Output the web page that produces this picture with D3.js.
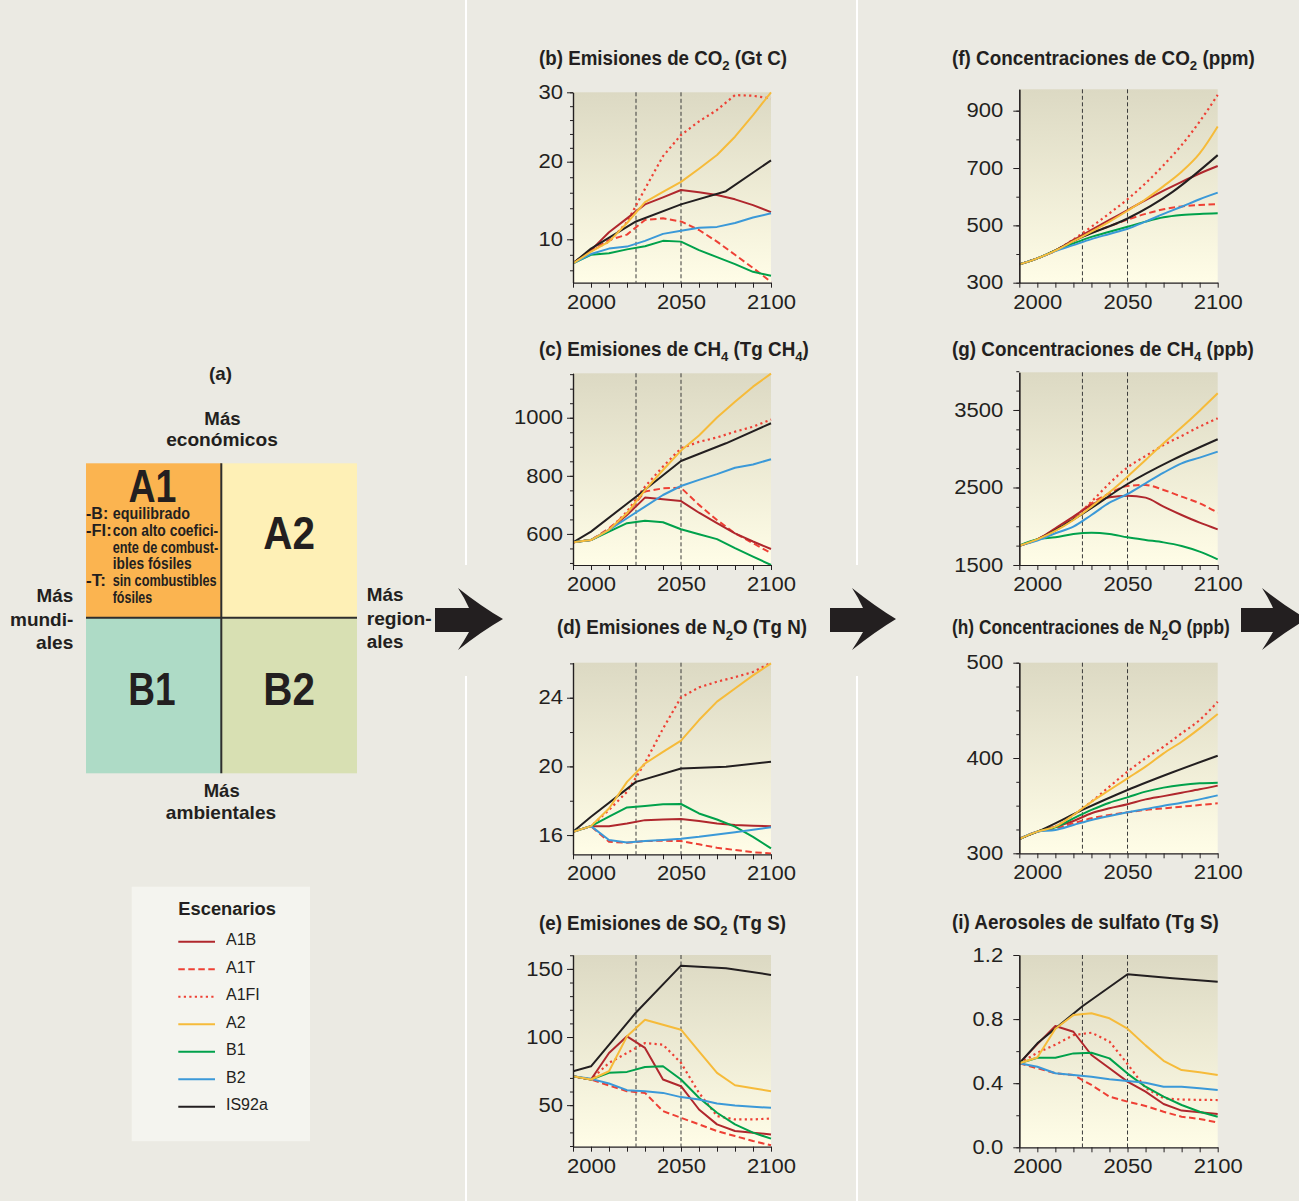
<!DOCTYPE html>
<html><head><meta charset="utf-8">
<script src="https://cdn.jsdelivr.net/npm/d3@7"></script>
<style>html,body{margin:0;padding:0;background:#EBEAE3;} svg{display:block}</style>
</head><body>
<svg id="c" width="1299" height="1201"></svg>
<script>
// ---------------- DATA ----------------
const YEARS = [1990,2000,2010,2020,2030,2040,2050,2060,2070,2080,2090,2100];
const IS92_YEARS = [1990,2000,2025,2050,2075,2100];
const SCENARIOS = ["A1B","A1T","A1FI","A2","B1","B2","IS92a"];
const X_TICK_LABELS = [2000,2050,2100];
const MARKER_YEARS = [2025,2050];

// rows follow SCENARIOS order: A1B, A1T, A1FI, A2, B1, B2, IS92a
const co2Emissions = [
  [6.9, 8.6, 10.9, 12.7, 14.5, 15.4, 16.35, 16.05, 15.7, 15.15, 14.4, 13.5],
  [6.9, 8.5, 9.9, 10.6, 12.5, 12.7, 12.3, 11.2, 9.7, 8.0, 6.3, 4.5],
  [6.9, 8.5, 9.7, 12.2, 16.5, 20.8, 23.85, 25.8, 27.45, 29.6, 29.5, 29.1],
  [6.9, 8.4, 9.7, 12.1, 14.8, 16.1, 17.4, 19.1, 20.96, 23.6, 26.7, 30.0],
  [6.9, 8.0, 8.2, 8.7, 9.1, 9.8, 9.7, 8.6, 7.7, 6.8, 5.8, 5.3],
  [6.9, 8.1, 8.8, 9.06, 9.8, 10.7, 11.1, 11.5, 11.6, 12.1, 12.8, 13.35],
  [6.9, 8.8, 12.3, 14.5, 16.2, 20.2]
];
const co2EmissionsTicks = [10, 20, 30];

const ch4Emissions = [
  [571, 579, 614, 665, 725, 719, 713, 673, 637, 602, 574, 548],
  [571, 579, 619, 671, 746, 757, 759, 700, 648, 602, 568, 534],
  [571, 579, 614, 677, 763, 832, 895, 917, 932, 952, 969, 994],
  [571, 579, 614, 671, 751, 820, 887, 939, 1001, 1055, 1107, 1152],
  [571, 579, 608, 637, 645, 640, 616, 599, 582, 551, 522, 493],
  [571, 579, 614, 654, 694, 734, 765, 786, 806, 828, 839, 857],
  [571, 608, 728, 851, 912, 981]
];
const ch4EmissionsTicks = [600, 800, 1000];

const n2oEmissions = [
  [16.19, 16.52, 16.52, 16.68, 16.87, 16.91, 16.93, 16.82, 16.68, 16.58, 16.55, 16.52],
  [16.19, 16.52, 15.61, 15.55, 15.65, 15.67, 15.65, 15.46, 15.26, 15.13, 15.0, 14.93],
  [16.19, 16.52, 17.46, 18.52, 20.2, 22.2, 24.02, 24.6, 24.93, 25.2, 25.5, 26.04],
  [16.19, 16.52, 17.55, 19.1, 20.17, 20.85, 21.5, 22.7, 23.77, 24.54, 25.3, 26.0],
  [16.19, 16.52, 17.07, 17.61, 17.69, 17.79, 17.81, 17.26, 16.91, 16.49, 15.9, 15.22],
  [16.19, 16.52, 15.71, 15.57, 15.65, 15.71, 15.79, 15.9, 16.04, 16.17, 16.31, 16.45],
  [16.19, 17.07, 19.1, 19.88, 19.98, 20.27]
];
const n2oEmissionsTicks = [16, 20, 24];

const so2Emissions = [
  [71.2, 68.8, 88.3, 100.5, 92, 68.8, 63.9, 46.8, 35.9, 31, 29.8, 28.5],
  [71.2, 68.8, 64.4, 60.2, 59, 45.6, 40.7, 35.9, 31, 27.3, 23.7, 20.5],
  [71.2, 68.8, 81, 88.3, 95.6, 94.4, 81, 59, 42, 39.5, 39.5, 40.2],
  [71.2, 68.8, 74.9, 100.5, 112.7, 109, 105.4, 89.5, 73.7, 64.6, 62.4, 60.2],
  [71.2, 68.8, 73.7, 74.4, 78, 78.5, 68.8, 55.4, 44.4, 35.9, 29.8, 25.4],
  [71.2, 69.3, 65.9, 61, 60.2, 59, 55.9, 54.1, 51.2, 49.8, 48.8, 48],
  [74.9, 78.5, 118, 152.4, 150.5, 145.6]
];
const so2EmissionsTicks = [50, 100, 150];

const co2Concentration = [
  [364, 385, 412, 449, 484, 519, 553, 588, 621, 652, 681, 707],
  [364, 385, 412, 445, 474, 497, 520, 540, 556, 566, 571, 574],
  [364, 385, 412, 451, 495, 542, 591, 647, 710, 780, 862, 955],
  [364, 385, 412, 445, 478, 513, 551, 591, 637, 687, 751, 845],
  [364, 385, 412, 437, 460, 478, 495, 513, 528, 536, 540, 542],
  [364, 385, 410, 431, 452, 470, 488, 513, 540, 565, 591, 614],
  [364, 385, 460, 524, 617, 745]
];
const co2ConcentrationTicks = [300, 500, 700, 900];

const ch4Concentration = [
  [1749, 1831, 1973, 2124, 2274, 2373, 2395, 2369, 2253, 2145, 2046, 1960],
  [1749, 1831, 1965, 2115, 2296, 2425, 2519, 2532, 2468, 2382, 2296, 2175],
  [1749, 1831, 1952, 2102, 2317, 2554, 2760, 2906, 3048, 3165, 3285, 3392],
  [1749, 1831, 1939, 2081, 2253, 2438, 2640, 2855, 3070, 3276, 3491, 3715],
  [1749, 1831, 1857, 1900, 1917, 1900, 1857, 1823, 1792, 1745, 1672, 1573],
  [1749, 1814, 1909, 1995, 2145, 2304, 2416, 2554, 2691, 2812, 2885, 2962],
  [1749, 1831, 2160, 2545, 2855, 3122]
];
const ch4ConcentrationTicks = [1500, 2500, 3500];

const n2oConcentration = [
  [315, 322.7, 328, 333.9, 342, 347.2, 351.4, 356.6, 360, 363.6, 367.1, 371],
  [315, 322.7, 326, 331.5, 336.7, 340.2, 343, 345.5, 347.2, 348.9, 350.7, 352.4],
  [315, 322.7, 328, 340.2, 354.2, 370, 385.7, 399.7, 411.9, 425.9, 439.9, 459],
  [315, 322.7, 328, 340.2, 354, 366.4, 378.7, 390.9, 404.9, 417.1, 431.1, 446.2],
  [315, 322.7, 327.3, 336.7, 345.5, 353.1, 358.7, 364.7, 368.9, 371.7, 373.4, 374.1],
  [315, 322.7, 324.5, 329.7, 335, 339.2, 343, 346.5, 350, 353.1, 356.6, 360.8],
  [315, 322.7, 345.5, 366.4, 385, 402.4]
];
const n2oConcentrationTicks = [300, 400, 500];

const sulfateAerosols = [
  [0.524, 0.644, 0.757, 0.721, 0.576, 0.493, 0.41, 0.347, 0.27, 0.229, 0.218, 0.208],
  [0.524, 0.493, 0.462, 0.451, 0.389, 0.316, 0.285, 0.258, 0.222, 0.191, 0.177, 0.154],
  [0.524, 0.59, 0.64, 0.70, 0.715, 0.66, 0.52, 0.37, 0.306, 0.298, 0.296, 0.295],
  [0.524, 0.56, 0.74, 0.825, 0.836, 0.805, 0.74, 0.636, 0.54, 0.482, 0.468, 0.451],
  [0.524, 0.559, 0.559, 0.586, 0.59, 0.555, 0.46, 0.378, 0.316, 0.264, 0.222, 0.191],
  [0.524, 0.503, 0.462, 0.451, 0.44, 0.424, 0.414, 0.403, 0.378, 0.378, 0.368, 0.358],
  [0.524, 0.649, 0.88, 1.08, 1.055, 1.033]
];
const sulfateAerosolsTicks = [0, 0.4, 0.8, 1.2];

// ---------------- STYLE ----------------
const INK = "#231F20";
const FONT = "'Liberation Sans', Arial, Helvetica, sans-serif";
const STYLE = {
  A1B:   {color: "#B0272D", dash: null},
  A1T:   {color: "#EE4035", dash: "6.5,3.5"},
  A1FI:  {color: "#EE4035", dash: "2.2,3.3"},
  A2:    {color: "#F6BB3A", dash: null},
  B1:    {color: "#00A14B", dash: null},
  B2:    {color: "#3B99D8", dash: null},
  IS92a: {color: "#231F20", dash: null}
};
const DRAW_ORDER = ["A1FI","A1T","A1B","IS92a","B1","B2","A2"];

const svg = d3.select("#c");
svg.append("rect").attr("width",1299).attr("height",1201).attr("fill","#EBEAE3");
const defs = svg.append("defs");
const grad = defs.append("linearGradient").attr("id","plotbg").attr("x1",0).attr("y1",0).attr("x2",0).attr("y2",1);
grad.append("stop").attr("offset","0%").attr("stop-color","#DCD9C3");
grad.append("stop").attr("offset","100%").attr("stop-color","#FFFDE7");

// text fitted to a measured width
function fitText(parent, o) {
  const size = o.size, weight = o.weight || "bold";
  const t = parent.append("text").attr("x",0).attr("y",0)
    .attr("font-family", FONT).attr("font-size", size).attr("font-weight", weight)
    .attr("fill", o.fill || INK);
  let shift = 0;
  o.parts.forEach(p => {
    const isSub = Array.isArray(p);
    const txt = isSub ? p[0] : p;
    const ts = t.append("tspan").text(txt);
    const target = isSub ? size*0.3 : 0;
    if (target !== shift) { ts.attr("dy", target - shift); shift = target; }
    if (isSub) ts.attr("font-size", size*0.7);
  });
  const bb = t.node().getBBox();
  const k = o.width ? o.width / bb.width : 1;
  const w = bb.width * k;
  const anchor = o.anchor || "start";
  let left = anchor === "start" ? o.x : anchor === "middle" ? o.x - w/2 : o.x - w;
  t.attr("transform", `translate(${left - bb.x*k},${o.y}) scale(${k},1)`);
  return t;
}

// ---------------- PANEL (a) ----------------
const pa = svg.append("g");
const QX0 = 86, QXM = 221.3, QX1 = 357, QY0 = 463.3, QYM = 617.7, QY1 = 773.3;
pa.append("rect").attr("x",QX0).attr("y",QY0).attr("width",QXM-QX0).attr("height",QYM-QY0).attr("fill","#FBB450");
pa.append("rect").attr("x",QXM).attr("y",QY0).attr("width",QX1-QXM).attr("height",QYM-QY0).attr("fill","#FEF0B6");
pa.append("rect").attr("x",QX0).attr("y",QYM).attr("width",QXM-QX0).attr("height",QY1-QYM).attr("fill","#AEDBC6");
pa.append("rect").attr("x",QXM).attr("y",QYM).attr("width",QX1-QXM).attr("height",QY1-QYM).attr("fill","#D8E0B3");
pa.append("line").attr("x1",QXM).attr("x2",QXM).attr("y1",QY0).attr("y2",QY1).attr("stroke","#2E2E2E").attr("stroke-width",2);
pa.append("line").attr("x1",QX0).attr("x2",QX1).attr("y1",QYM).attr("y2",QYM).attr("stroke","#2E2E2E").attr("stroke-width",2);

fitText(pa, {x:220.5, y:380, size:18.5, parts:["(a)"], anchor:"middle", width:23});
fitText(pa, {x:222.5, y:425, size:19, parts:["Más"], anchor:"middle", width:36.3});
fitText(pa, {x:222, y:446, size:19, parts:["económicos"], anchor:"middle", width:111.7});
fitText(pa, {x:73.3, y:602, size:19, parts:["Más"], anchor:"end", width:36.7});
fitText(pa, {x:73.3, y:626, size:19, parts:["mundi-"], anchor:"end", width:63.3});
fitText(pa, {x:73.3, y:649, size:19, parts:["ales"], anchor:"end", width:37.3});
fitText(pa, {x:366.7, y:601, size:19, parts:["Más"], width:36.7});
fitText(pa, {x:366.7, y:625, size:19, parts:["region-"], width:65});
fitText(pa, {x:366.7, y:648, size:19, parts:["ales"], width:36.7});
fitText(pa, {x:221.7, y:797, size:19, parts:["Más"], anchor:"middle", width:36});
fitText(pa, {x:221, y:818.5, size:19, parts:["ambientales"], anchor:"middle", width:110.3});

fitText(pa, {x:152.5, y:501.7, size:46, parts:["A1"], anchor:"middle", width:48});
fitText(pa, {x:289.2, y:549, size:46, parts:["A2"], anchor:"middle", width:51.7});
fitText(pa, {x:152, y:705, size:46, parts:["B1"], anchor:"middle", width:47.4});
fitText(pa, {x:289.2, y:705, size:46, parts:["B2"], anchor:"middle", width:51.7});

const A1_NOTES = [
  {t:"-B:", x:86, w:22.3, y:519.3}, {t:"equilibrado", x:112.7, w:77.3, y:519.3},
  {t:"-FI:", x:86, w:25.7, y:536}, {t:"con alto coefici-", x:112.7, w:105.6, y:536},
  {t:"ente de combust-", x:112.7, w:105.6, y:552.7},
  {t:"ibles fósiles", x:112.7, w:79, y:569.3},
  {t:"-T:", x:86, w:20, y:586}, {t:"sin combustibles", x:112.7, w:104, y:586},
  {t:"fósiles", x:112.7, w:39.6, y:603}
];
A1_NOTES.forEach(n => fitText(pa, {x:n.x, y:n.y, size:17, parts:[n.t], width:n.w}));

// ---------------- LEGEND ----------------
const lg = svg.append("g");
lg.append("rect").attr("x",131.7).attr("y",886.7).attr("width",178.3).attr("height",254.5).attr("fill","#F4F4EF");
fitText(lg, {x:227.2, y:915, size:19, parts:["Escenarios"], anchor:"middle", width:97.7});
SCENARIOS.forEach((s,i) => {
  const ly = 941.7 + i*27.5;
  lg.append("line").attr("x1",178.3).attr("x2",215).attr("y1",ly).attr("y2",ly)
    .attr("stroke",STYLE[s].color).attr("stroke-width",2).attr("stroke-dasharray",STYLE[s].dash);
  lg.append("text").attr("x",226).attr("y",ly+3.6).attr("font-family",FONT).attr("font-size",16)
    .attr("fill",INK).text(s);
});

// ---------------- DIVIDERS & ARROWS ----------------
[466, 857].forEach(xx => {
  svg.append("line").attr("x1",xx).attr("x2",xx).attr("y1",0).attr("y2",565).attr("stroke","#FFFFFF").attr("stroke-width",2);
  svg.append("line").attr("x1",xx).attr("x2",xx).attr("y1",676).attr("y2",1201).attr("stroke","#FFFFFF").attr("stroke-width",2);
});
function arrow(sx, bx, tip) {
  const p = `M${sx},608 L${bx+11},608 Q${bx+6},597 ${bx},588 Q${bx+24},607 ${tip},619 Q${bx+24},631 ${bx},650 Q${bx+6},641 ${bx+11},632 L${sx},632 Z`;
  svg.append("path").attr("d",p).attr("fill","#231F20");
}
arrow(435, 458, 503);
arrow(830, 852, 896);
arrow(1241, 1262, 1307);

// ---------------- LINE PANELS ----------------
const panels = [
  {data:co2Emissions, ticks:co2EmissionsTicks, minor:d3.range(6,31,2), x0:573, x1:771,
   domain:[4.4,10,20,30], range:[282.7,239.3,161.7,92.3], pad:2.9, smooth:false,
   title:{x:539, y:64.5, w:248, parts:["(b) Emisiones de CO",["2"]," (Gt C)"]}},
  {data:ch4Emissions, ticks:ch4EmissionsTicks, minor:d3.range(500,1151,50), x0:573, x1:771,
   domain:[493,1153], range:[565,373.3], pad:2.9, smooth:false,
   title:{x:539, y:355.5, w:270, parts:["(c) Emisiones de CH",["4"]," (Tg CH",["4"],")"]}},
  {data:n2oEmissions, ticks:n2oEmissionsTicks, minor:d3.range(16,27,2), x0:573, x1:771,
   domain:[14.88,26.04], range:[854.3,662.7], pad:2.9, smooth:false,
   title:{x:557, y:634, w:250, parts:["(d) Emisiones de N",["2"],"O (Tg N)"]}},
  {data:so2Emissions, ticks:so2EmissionsTicks, minor:d3.range(20,161,10), x0:573, x1:771,
   domain:[19.5,160.2], range:[1146.7,955], pad:2.9, smooth:false,
   title:{x:539, y:929.5, w:247, parts:["(e) Emisiones de SO",["2"]," (Tg S)"]}},
  {data:co2Concentration, ticks:co2ConcentrationTicks, minor:d3.range(300,901,100), x0:1019.3, x1:1217.7,
   domain:[300,974.6], range:[282.7,89.3], pad:8.3, smooth:true,
   title:{x:952, y:64.5, w:303, parts:["(f) Concentraciones de CO",["2"]," (ppm)"]}},
  {data:ch4Concentration, ticks:ch4ConcentrationTicks, minor:d3.range(1500,4001,250), x0:1019.3, x1:1217.7,
   domain:[1500,3986], range:[565,372.3], pad:8.3, smooth:true,
   title:{x:952, y:355.5, w:302, parts:["(g) Concentraciones de CH",["4"]," (ppb)"]}},
  {data:n2oConcentration, ticks:n2oConcentrationTicks, minor:d3.range(300,501,25), x0:1019.3, x1:1217.7,
   domain:[300,500], range:[853.3,662.7], pad:8.3, smooth:true,
   title:{x:952, y:634, w:278, parts:["(h) Concentraciones de N",["2"],"O (ppb)"]}},
  {data:sulfateAerosols, ticks:sulfateAerosolsTicks, minor:[0,0.2,0.4,0.6,0.8,1.0,1.2], x0:1019.3, x1:1217.7,
   domain:[0,1.2], range:[1147.3,955], pad:8.3, smooth:false, fmt:d3.format(".1f"),
   title:{x:952, y:928.5, w:267, parts:["(i) Aerosoles de sulfato (Tg S)"]}}
];

panels.forEach((p, pi) => {
  const top = p.range[p.range.length-1], bottom = p.range[0];
  const x = d3.scaleLinear().domain([1990,2100]).range([p.x0, p.x1]);
  const y = d3.scaleLinear().domain(p.domain).range(p.range);
  const g = svg.append("g");
  g.append("rect").attr("x",p.x0).attr("y",top).attr("width",p.x1-p.x0).attr("height",bottom-top).attr("fill","url(#plotbg)");
  MARKER_YEARS.forEach(yr => g.append("line").attr("x1",x(yr)).attr("x2",x(yr)).attr("y1",top).attr("y2",bottom)
    .attr("stroke","#3A3A3A").attr("stroke-width",1).attr("stroke-dasharray","4,2.5"));

  const cid = "clip" + pi;
  defs.append("clipPath").attr("id",cid).append("rect").attr("x",p.x0).attr("y",top-2).attr("width",p.x1-p.x0+2).attr("height",bottom-top+2);
  const lines = g.append("g").attr("clip-path",`url(#${cid})`);
  DRAW_ORDER.forEach(s => {
    const i = SCENARIOS.indexOf(s);
    const yrs = s === "IS92a" ? IS92_YEARS : YEARS;
    const line = d3.line().x((d,j) => x(yrs[j])).y(d => y(d))
      .curve(p.smooth ? d3.curveMonotoneX : d3.curveLinear);
    lines.append("path").datum(p.data[i]).attr("d", line).attr("fill","none")
      .attr("stroke", STYLE[s].color).attr("stroke-width", s === "A1FI" ? 2.2 : 2)
      .attr("stroke-dasharray", STYLE[s].dash).attr("stroke-linejoin","round");
  });

  // axes
  const yMinor = d3.axisLeft(y).tickValues(p.minor).tickSize(3).tickFormat("").tickSizeOuter(0);
  const yMajor = d3.axisLeft(y).tickValues(p.ticks).tickSize(6).tickPadding(p.pad).tickSizeOuter(0)
    .tickFormat(p.fmt || (d => d));
  const xAxis = d3.axisBottom(x).tickValues(d3.range(1990,2101,10)).tickSize(5).tickPadding(7).tickSizeOuter(0)
    .tickFormat(d => X_TICK_LABELS.includes(d) ? d : "");
  const gy1 = g.append("g").attr("transform",`translate(${p.x0},0)`).call(yMinor);
  const gy2 = g.append("g").attr("transform",`translate(${p.x0},0)`).call(yMajor);
  const gx = g.append("g").attr("transform",`translate(0,${bottom})`).call(xAxis);
  [gy1, gy2, gx].forEach(a => {
    a.selectAll("path.domain").attr("stroke",INK).attr("stroke-width",1.2);
    a.selectAll(".tick line").attr("stroke",INK).attr("stroke-width",1);
    a.selectAll("text").attr("font-family",FONT).attr("font-size",19.5).attr("fill",INK)
      .attr("transform","scale(1.13,1)");
  });

  fitText(g, {x:p.title.x, y:p.title.y, size:19.5, parts:p.title.parts, width:p.title.w});
});
</script>
</body></html>
